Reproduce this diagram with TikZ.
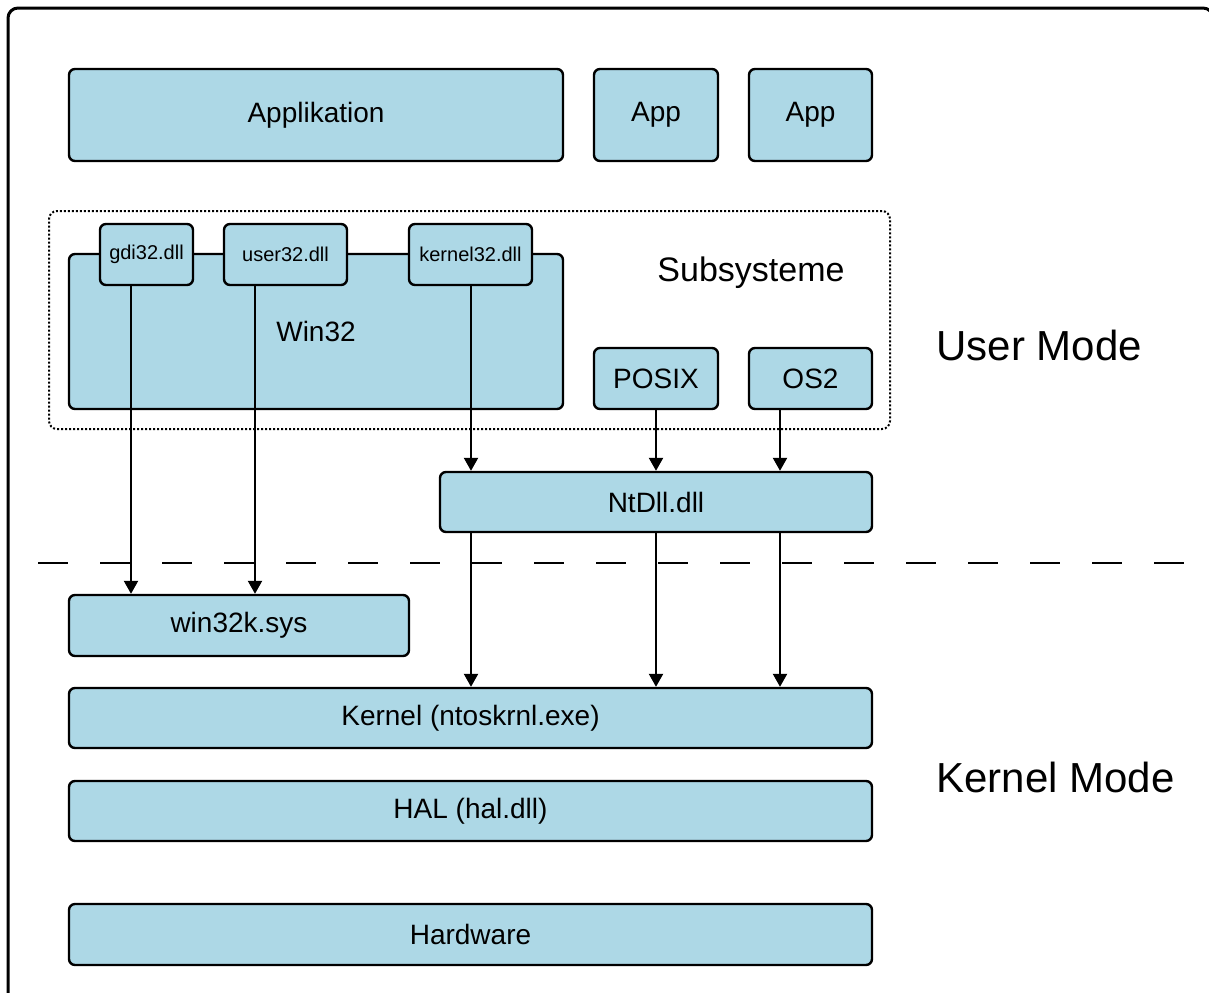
\documentclass[tikz,border=0pt]{standalone}
\usepackage{fontspec}
\setmainfont{Liberation Sans}
\usetikzlibrary{arrows.meta}
\definecolor{boxblue}{RGB}{173,216,230}
\begin{document}
\begin{tikzpicture}[x=0.5pt,y=-0.5pt,
  blk/.style={draw=black,fill=boxblue,line width=1.2pt,rounded corners=3pt,inner sep=0pt,font=\fontsize{14}{16}\selectfont},
  dllbox/.style={blk,font=\fontsize{10}{12}\selectfont},
  arr/.style={line width=1.1pt,-{Triangle[length=6.5pt,width=7pt]}},
  modelbl/.style={anchor=west,inner sep=0pt,font=\fontsize{21}{24}\selectfont}]
\useasboundingbox (0,0) rectangle (1209,992);
\clip (0,0) rectangle (1209,992);
\draw[line width=1.5pt,rounded corners=5pt] (8,1010) -- (8,8) -- (1213,8) -- (1213,1010);
% top row
\node[blk,minimum width=247pt,minimum height=46pt] (app) at (316,115) {Applikation};
\node[blk,minimum width=62pt,minimum height=46pt] (app2) at (656,115) {App};
\node[blk,minimum width=61.5pt,minimum height=46pt] (app3) at (810.5,115) {App};
% subsystems
\node[draw=black,line width=1pt,dash pattern=on 1pt off 1pt,rounded corners=4pt,minimum width=420.5pt,minimum height=109pt,inner sep=0pt] (sub) at (469.5,320) {};
\node[inner sep=0pt,font=\fontsize{17}{20}\selectfont] (sublbl) at (751,273) {Subsysteme};
\node[blk,minimum width=247pt,minimum height=77.5pt] (win32) at (316,331.5) {Win32};
\node[dllbox,minimum width=46.5pt,minimum height=30.5pt] (gdi) at (146.5,254.5) {gdi32.dll};
\node[dllbox,minimum width=61.5pt,minimum height=30.5pt] (user) at (285.5,254.5) {user32.dll};
\node[dllbox,minimum width=61.5pt,minimum height=30.5pt] (kern32) at (470.5,254.5) {kernel32.dll};
\node[blk,minimum width=62pt,minimum height=30.5pt] (posix) at (656,378.5) {POSIX};
\node[blk,minimum width=61.5pt,minimum height=30.5pt] (os2) at (810.5,378.5) {OS2};
\node[blk,minimum width=216pt,minimum height=30pt] (ntdll) at (656,502) {NtDll.dll};
% boundary
\coordinate (dl) at (38,563);
\coordinate (dr) at (1185,563);
\draw[line width=1pt,dash pattern=on 15pt off 16pt] (dl) -- (dr);
% kernel side
\node[blk,minimum width=170pt,minimum height=30.5pt] (win32k) at (239,625.5) {win32k.sys};
\node[blk,minimum width=401.5pt,minimum height=30pt] (kernel) at (470.5,718) {Kernel (ntoskrnl.exe)};
\node[blk,minimum width=401.5pt,minimum height=30pt] (hal) at (470.5,811) {HAL (hal.dll)};
\node[blk,minimum width=401.5pt,minimum height=30.5pt] (hw) at (470.5,934.5) {Hardware};
% labels
\node[modelbl] (um) at (936,345) {User Mode};
\node[modelbl] (km) at (936,777) {Kernel Mode};
% arrow columns
\coordinate (xa) at (131,0);
\coordinate (xb) at (255,0);
\coordinate (xc) at (471,0);
\coordinate (xd) at (656,0);
\coordinate (xe) at (780,0);
\draw[arr] (gdi.south -| xa) -- (win32k.north -| xa);
\draw[arr] (user.south -| xb) -- (win32k.north -| xb);
\draw[arr] (kern32.south -| xc) -- (ntdll.north -| xc);
\draw[arr] (posix.south -| xd) -- (ntdll.north -| xd);
\draw[arr] (os2.south -| xe) -- (ntdll.north -| xe);
\draw[arr] (ntdll.south -| xc) -- (kernel.north -| xc);
\draw[arr] (ntdll.south -| xd) -- (kernel.north -| xd);
\draw[arr] (ntdll.south -| xe) -- (kernel.north -| xe);
\end{tikzpicture}
\end{document}
